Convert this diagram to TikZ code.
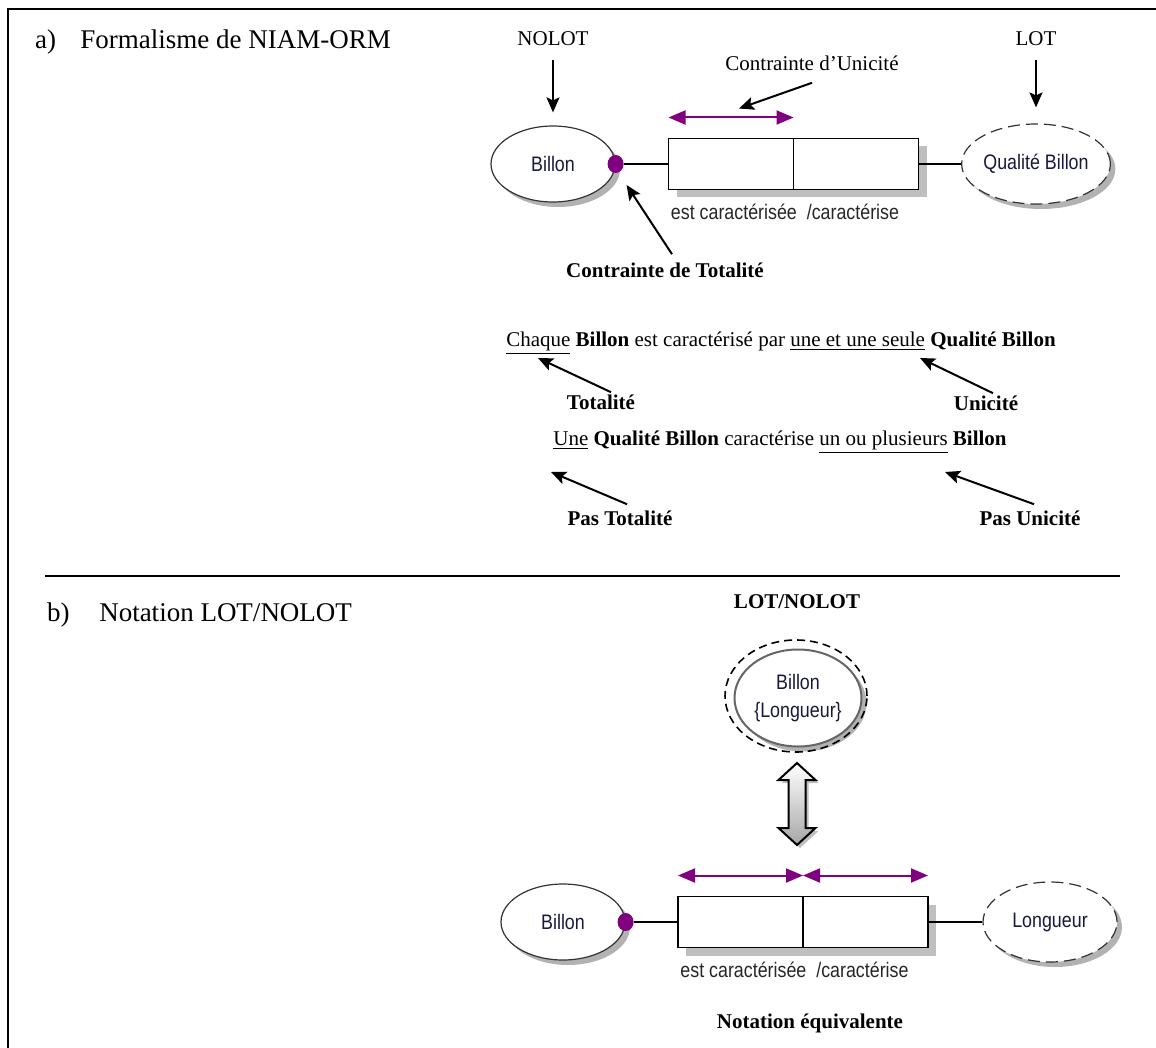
\documentclass[tikz,border=0pt]{standalone}
\usepackage{fontspec}
\setmainfont{Liberation Serif}
\newfontfamily\arialfont[FakeStretch=0.85]{Liberation Sans}
\usetikzlibrary{shapes,arrows.meta,positioning,shadows,calc}
\definecolor{ormpurple}{RGB}{128,0,128}
\definecolor{ormink}{RGB}{25,25,60}
\tikzset{
    entity/.style={ellipse, draw=black!80, line width=0.6pt, fill=white, minimum width=62pt, minimum height=38pt, inner sep=0pt, font=\arialfont\fontsize{10.5}{11}\selectfont, text=ormink, drop shadow={shadow xshift=2.5pt, shadow yshift=-2.5pt, fill=black!30, opacity=1}},
    lotentity/.style={entity, dash pattern=on 6pt off 3pt, minimum width=67pt, minimum height=40pt},
    rolebox/.style={rectangle, draw, line width=0.8pt, fill=white, minimum width=62.5pt, minimum height=25.5pt, inner sep=0pt, outer sep=0pt, drop shadow={shadow xshift=4pt, shadow yshift=-4pt, fill=black!25, opacity=1}},
    totdot/.style={ellipse, fill=ormpurple, minimum width=8pt, minimum height=9pt, inner sep=0pt},
    uniq/.style={draw=ormpurple, line width=1pt, {Triangle[length=8.5pt,width=7pt]}-{Triangle[length=8.5pt,width=7pt]}},
    pointer/.style={draw, line width=1pt, -{Stealth[length=7.5pt,width=6.5pt,inset=1.5pt]}},
    link/.style={draw, line width=0.7pt},
    heading/.style={anchor=west, font=\fontsize{13.5}{16}\selectfont},
    note/.style={font=\fontsize{10.5}{12}\selectfont, inner sep=1pt},
    bnote/.style={note, font=\bfseries\fontsize{10.5}{12}\selectfont},
    rolelabel/.style={font=\arialfont\fontsize{10.5}{11}\selectfont, text=black!85, inner sep=1pt}
}
\begin{document}
\begin{tikzpicture}[x=0.5pt, y=-0.5pt]
    \useasboundingbox (0,0) rectangle (1156,1048);
    % frame and separator
    \draw[line width=1.3pt] (8,1048) -- (8,9) -- (1156,9);
    \draw[line width=1pt] (45,576) -- (1120,576);

    % a) NIAM-ORM schema
    \node[heading] (titleA) at (28,42) {a)\hspace{0.9em}Formalisme de NIAM-ORM};
    \node[entity] (billonA) at (553,164) {Billon};
    \node[totdot] (dotA) at (billonA.east) {};
    \node[rolebox] (roleA1) at (731,164) {};
    \node[rolebox, right=0pt of roleA1] (roleA2) {};
    \node[lotentity] (qualite) at (1036,164) {Qualité Billon};
    \path[link] (dotA) -- (roleA1);
    \path[link] (roleA2) -- (qualite);
    \draw[uniq] ([yshift=10.5pt]roleA1.north west) -- ([yshift=10.5pt]roleA1.north east);
    \node[rolelabel, anchor=north west] (rolesA) at ([yshift=-6pt]roleA1.south west) {est caractérisée\ \ /caractérise};

    % LOT / NOLOT pointers
    \node[note] (nolot) at (553,39) {NOLOT};
    \node[note] (lot) at (1036,39) {LOT};
    \draw[pointer] ([yshift=-6pt]nolot.south) -- ([yshift=6.5pt]billonA.north);
    \draw[pointer] ([yshift=-6pt]lot.south) -- ([yshift=8pt]qualite.north);

    % constraints
    \node[note] (unicA) at (812,63) {Contrainte d'Unicité};
    \coordinate (unicTipA) at ($(roleA1.north)+(8,-30)$);
    \draw[pointer] ([yshift=-5pt]unicA.south) -- (unicTipA);
    \node[bnote] (totA) at (665,270) {Contrainte de Totalité};
    \coordinate (totTipA) at ($(dotA)+(11,21)$);
    \draw[pointer] ([xshift=3.5pt,yshift=3pt]totA.north) -- (totTipA);

    % reading of the schema
    \node[note] (phrase1) at (781,343) {\underline{Chaque} \textbf{Billon} est caractérisé par \underline{une et une seule} \textbf{Qualité Billon}};
    \node[bnote] (totLbl) at (601,402) {Totalité};
    \node[bnote] (unicLbl) at (986,403) {Unicité};
    \coordinate (chaqueTip) at (538,358);
    \coordinate (seuleTip) at (920,358);
    \draw[pointer] ([xshift=5pt]totLbl.north) -- (chaqueTip);
    \draw[pointer] ([xshift=3.5pt]unicLbl.north) -- (seuleTip);

    \node[note] (phrase2) at (780,442) {\underline{Une} \textbf{Qualité Billon} caractérise \underline{un ou plusieurs} \textbf{Billon}};
    \node[bnote] (pasTotLbl) at (620,518) {Pas Totalité};
    \node[bnote] (pasUnicLbl) at (1030,518) {Pas Unicité};
    \coordinate (uneTip) at (551,472);
    \coordinate (plusieursTip) at (945,472);
    \draw[pointer] ([xshift=3.5pt,yshift=2pt]pasTotLbl.north) -- (uneTip);
    \draw[pointer] ([xshift=2pt,yshift=2pt]pasUnicLbl.north) -- (plusieursTip);

    % b) LOT/NOLOT notation
    \node[heading] (titleB) at (40,615) {b)\hspace{1.1em}Notation LOT/NOLOT};
    \node[bnote] (lotnolotLbl) at (797,602) {LOT/NOLOT};
    \node[entity, minimum width=63.5pt, minimum height=48.5pt, draw=black!60, line width=1pt, align=center, font=\arialfont\fontsize{10.5}{14}\selectfont] (billonLot) at (798,698) {Billon\\\{Longueur\}};
    \node[ellipse, draw, dash pattern=on 4pt off 2.5pt, line width=0.8pt, minimum width=71pt, minimum height=56pt] (lotRing) at (796,696) {};

    % equivalence arrow
    \coordinate (eqv) at (797,804);
    \fill[black!25] ($(eqv)+(3,-38)$) -- ++(18.5,17) -- ++(-10,0) -- ++(0,48) -- ++(10,0) -- ++(-18.5,17) -- ++(-18.5,-17) -- ++(10,0) -- ++(0,-48) -- ++(-10,0) -- cycle;
    \draw[line width=1pt, top color=white, bottom color=black!35] ($(eqv)+(0,-41)$) -- ++(18.5,17) -- ++(-10,0) -- ++(0,48) -- ++(10,0) -- ++(-18.5,17) -- ++(-18.5,-17) -- ++(10,0) -- ++(0,-48) -- ++(-10,0) -- cycle;

    \node[entity] (billonB) at (563,922) {Billon};
    \node[totdot] (dotB) at (billonB.east) {};
    \node[rolebox] (roleB1) at (740.5,922) {};
    \node[rolebox, right=0pt of roleB1] (roleB2) {};
    \node[lotentity] (longueur) at (1050,922) {Longueur};
    \path[link] (dotB) -- (roleB1);
    \path[link] (roleB2) -- (longueur);
    \draw[uniq] ([yshift=10.5pt]roleB1.north west) -- ([yshift=10.5pt]roleB1.north east);
    \draw[uniq] ([yshift=10.5pt]roleB2.north west) -- ([yshift=10.5pt]roleB2.north east);
    \node[rolelabel, anchor=north west] (rolesB) at ([yshift=-6pt]roleB1.south west) {est caractérisée\ \ /caractérise};
    \node[bnote] (equiv) at (810,1023) {Notation équivalente};
\end{tikzpicture}
\end{document}
